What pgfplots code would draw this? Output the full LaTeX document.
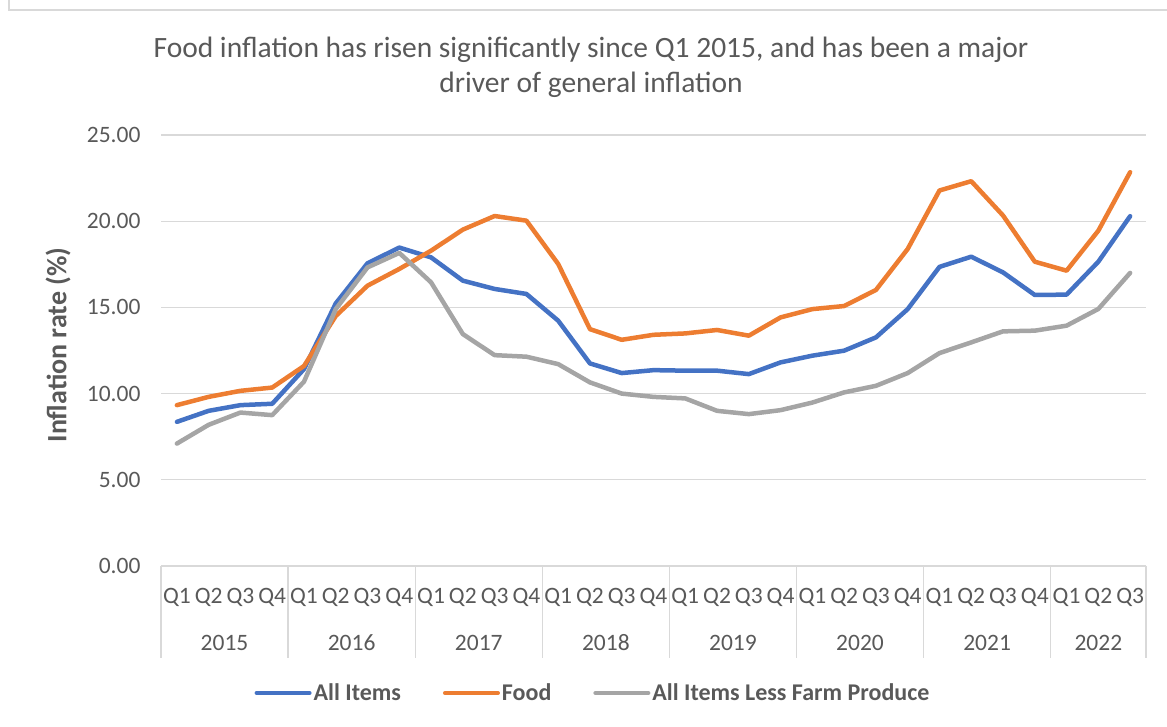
\documentclass[border=0pt]{standalone}
\usepackage{fontspec}
\setmainfont{Carlito}
\usepackage{pgfplots}
\usepackage{pgfplotstable}
\pgfplotsset{compat=1.18}
\definecolor{cblue}{HTML}{4472C4}
\definecolor{corange}{HTML}{ED7D31}
\definecolor{cgray}{HTML}{A5A5A5}
\definecolor{txt}{HTML}{595959}
\definecolor{gridc}{HTML}{D9D9D9}
\pgfplotstableread{
i allitems food lessfarm
0 8.36 9.33 7.10
1 9.00 9.81 8.19
2 9.33 10.16 8.90
3 9.41 10.35 8.75
4 11.42 11.60 10.69
5 15.23 14.50 14.90
6 17.56 16.26 17.32
7 18.47 17.23 18.16
8 17.90 18.29 16.45
9 16.55 19.51 13.45
10 16.07 20.30 12.23
11 15.78 20.03 12.14
12 14.23 17.52 11.71
13 11.75 13.74 10.65
14 11.19 13.12 10.00
15 11.36 13.41 9.81
16 11.33 13.49 9.72
17 11.33 13.69 9.00
18 11.13 13.36 8.81
19 11.81 14.42 9.04
20 12.20 14.90 9.48
21 12.49 15.08 10.07
22 13.26 16.01 10.45
23 14.90 18.39 11.19
24 17.35 21.78 12.35
25 17.94 22.32 12.97
26 17.03 20.33 13.61
27 15.72 17.65 13.65
28 15.74 17.13 13.94
29 17.65 19.45 14.91
30 20.29 22.84 17.00
}\datatable
\begin{document}
\begin{tikzpicture}[x=1pt,y=1pt]
% chart frame
\draw[gridc,line width=1.3pt] (9,727) -- (9,717) -- (1167,717);
% title
\node[txt,font=\fontsize{29.5}{35}\selectfont,align=center] at (591,660) {Food inflation has risen significantly since Q1 2015, and has been a major\\driver of general inflation};
% y label
\node[txt,font=\fontsize{28}{32}\selectfont\bfseries,rotate=90] at (58,382) {Inflation rate (\%)};
\begin{axis}[
  at={(161pt,161pt)}, anchor=south west,
  scale only axis, width=985pt, height=431pt,
  xmin=-0.5, xmax=30.5, ymin=0, ymax=25,
  ytick={0,5,...,25},
  ymajorgrids, xmajorgrids=false, grid style={gridc,line width=1.3pt},
  axis line style={draw=none},
  major tick length=0pt,
  clip=false,
  xtick={0,...,30},
  xticklabels={Q1,Q2,Q3,Q4,Q1,Q2,Q3,Q4,Q1,Q2,Q3,Q4,Q1,Q2,Q3,Q4,Q1,Q2,Q3,Q4,Q1,Q2,Q3,Q4,Q1,Q2,Q3,Q4,Q1,Q2,Q3},
  xticklabel style={font=\fontsize{23.5}{28}\selectfont, text=txt, anchor=center, yshift=-31pt},
  yticklabel style={font=\fontsize{23.5}{28}\selectfont, text=txt, xshift=-17pt},
  /pgf/number format/assume math mode=true,
  yticklabel={\pgfmathprintnumber[fixed,fixed zerofill,precision=2]{\tick}},
  legend style={at={(axis description cs:0.4386,-0.2947)}, anchor=center, draw=none, fill=none,
    font=\fontsize{24}{28}\selectfont\bfseries, text=txt, legend columns=3,
    /tikz/every even column/.append style={column sep=40pt},
    inner sep=0pt, cells={anchor=west}},
  legend image code/.code={\draw[#1, line width=4pt, line cap=round] (0pt,0pt) -- (53pt,0pt);},
]
\addplot[cblue, line width=4.5pt, line join=round, line cap=round] table[x=i,y=allitems] {\datatable};
\addlegendentry{All Items}
\addplot[corange, line width=4.5pt, line join=round, line cap=round] table[x=i,y=food] {\datatable};
\addlegendentry{Food}
\addplot[cgray, line width=4.5pt, line join=round, line cap=round] table[x=i,y=lessfarm] {\datatable};
\addlegendentry{All Items Less Farm Produce}
% category axis lines
\draw[gridc,line width=1.3pt] (axis cs:-0.5,0) -- (axis cs:30.5,0);
\pgfplotsinvokeforeach{-0.5,3.5,7.5,11.5,15.5,19.5,23.5,27.5,30.5}{
  \draw[gridc,line width=1.3pt] (axis cs:#1,0) -- ++(0pt,-92pt);
}
\node[txt,font=\fontsize{23.5}{28}\selectfont] at ([yshift=-77pt]axis cs:1.5,0) {2015};
\node[txt,font=\fontsize{23.5}{28}\selectfont] at ([yshift=-77pt]axis cs:5.5,0) {2016};
\node[txt,font=\fontsize{23.5}{28}\selectfont] at ([yshift=-77pt]axis cs:9.5,0) {2017};
\node[txt,font=\fontsize{23.5}{28}\selectfont] at ([yshift=-77pt]axis cs:13.5,0) {2018};
\node[txt,font=\fontsize{23.5}{28}\selectfont] at ([yshift=-77pt]axis cs:17.5,0) {2019};
\node[txt,font=\fontsize{23.5}{28}\selectfont] at ([yshift=-77pt]axis cs:21.5,0) {2020};
\node[txt,font=\fontsize{23.5}{28}\selectfont] at ([yshift=-77pt]axis cs:25.5,0) {2021};
\node[txt,font=\fontsize{23.5}{28}\selectfont] at ([yshift=-77pt]axis cs:29,0) {2022};
\end{axis}
\pgfresetboundingbox
\path[use as bounding box] (0,0) rectangle (1167,727);
\end{tikzpicture}
\end{document}
